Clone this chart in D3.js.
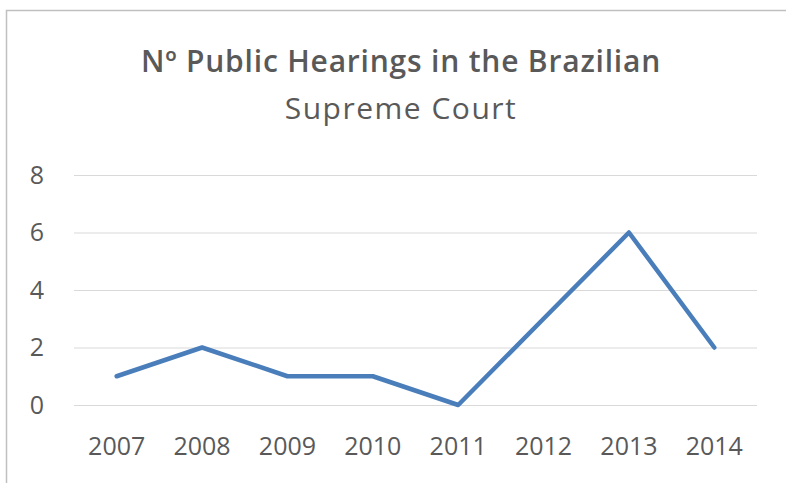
<!DOCTYPE html>
<html>
<head>
<meta charset="utf-8">
<script src="https://cdn.jsdelivr.net/npm/d3@7"></script>
<style>
  body { margin: 0; background: #fff; }
  text { font-family: "Open Sans", sans-serif; fill: #595959; }
</style>
</head>
<body>
<div id="graph"></div>
<script>
var years = ["2007", "2008", "2009", "2010", "2011", "2012", "2013", "2014"];
var hearings = [1, 2, 1, 1, 0, 3, 6, 2];
var yTicks = [0, 2, 4, 6, 8];
var titleLines = ["Nº Public Hearings in the Brazilian", "Supreme Court"];

var width = 786, height = 483;
var line_color = "#4a7ebb";

var svg = d3.select("#graph").append("svg")
  .attr("width", width)
  .attr("height", height);

// chart border (only top and left show in the crop)
svg.append("rect")
  .attr("x", 6.5).attr("y", 10.5)
  .attr("width", 800).attr("height", 500)
  .attr("fill", "none")
  .attr("stroke", "#c0c0c0")
  .attr("stroke-width", 1.5);

var x = d3.scalePoint()
  .domain(years)
  .range([74, 757])
  .padding(0.5);

var y = d3.scaleLinear()
  .domain([0, 8])
  .range([405, 175]);

// gridlines
svg.selectAll(".grid")
  .data(yTicks)
  .enter().append("line")
  .attr("class", "grid")
  .attr("x1", 74).attr("x2", 757)
  .attr("y1", function(d) { return y(d) + 0.5; })
  .attr("y2", function(d) { return y(d) + 0.5; })
  .attr("stroke", "#d9d9d9")
  .attr("stroke-width", 1);

// y labels
svg.selectAll(".ylab")
  .data(yTicks)
  .enter().append("text")
  .attr("class", "ylab")
  .attr("x", 44)
  .attr("y", function(d) { return y(d); })
  .attr("dy", "0.35em")
  .attr("text-anchor", "end")
  .style("font-size", "25px")
  .text(function(d) { return d; });

// x labels
svg.selectAll(".xlab")
  .data(years)
  .enter().append("text")
  .attr("class", "xlab")
  .attr("x", function(d) { return x(d); })
  .attr("y", 455)
  .attr("text-anchor", "middle")
  .style("font-size", "25px")
  .text(function(d) { return d; });

var line = d3.line()
  .x(function(d, i) { return x(years[i]); })
  .y(function(d) { return y(d); });

svg.append("path")
  .datum(hearings)
  .attr("d", line)
  .attr("fill", "none")
  .attr("stroke", line_color)
  .attr("stroke-width", 4.5)
  .attr("stroke-linejoin", "round")
  .attr("stroke-linecap", "round");

// title, first line heavier like the original
svg.selectAll(".title")
  .data(titleLines)
  .enter().append("text")
  .attr("class", "title")
  .attr("x", 401)
  .attr("y", function(d, i) { return 72 + i * 47; })
  .attr("text-anchor", "middle")
  .style("font-size", "30px")
  .style("font-weight", function(d, i) { return i == 0 ? 600 : 400; })
  .style("letter-spacing", function(d, i) { return i == 0 ? "0.8px" : "1.5px"; })
  .text(function(d) { return d; });
</script>
</body>
</html>
